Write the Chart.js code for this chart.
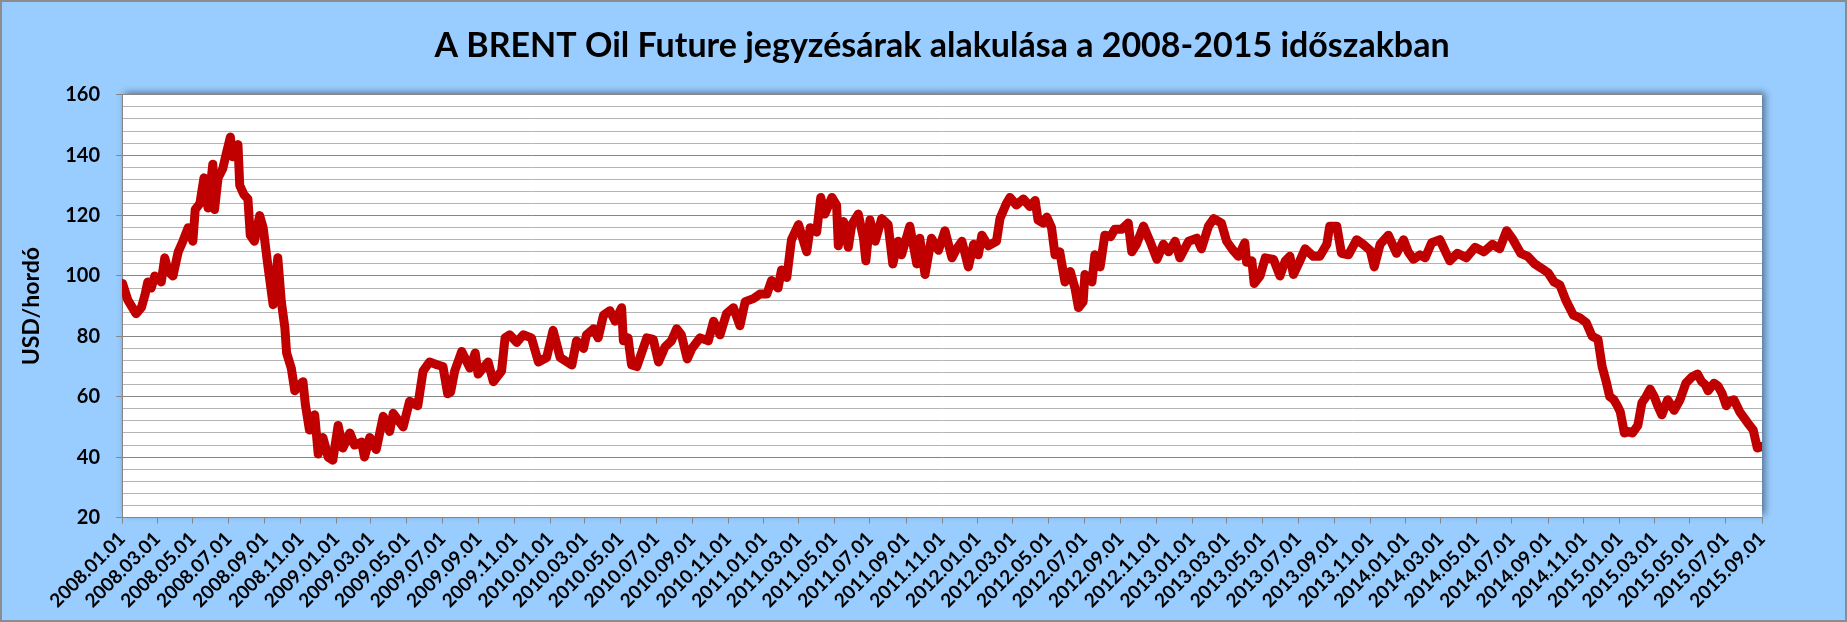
<!DOCTYPE html>
<html>
<head>
<meta charset="utf-8">
<script src="https://cdn.jsdelivr.net/npm/chart.js@4.4.1/dist/chart.umd.min.js"></script>
<style>
html,body{margin:0;padding:0;background:#99CCFF;overflow:hidden;}
canvas{display:block;}
</style>
</head>
<body>
<canvas id="c" width="1847" height="622"></canvas>
<script>
const titleText = 'A BRENT Oil Future jegyzésárak alakulása a 2008-2015 időszakban';
const yAxisTitle = 'USD/hordó';

const xTickLabels = [
 '2008.01.01','2008.03.01','2008.05.01','2008.07.01','2008.09.01','2008.11.01',
 '2009.01.01','2009.03.01','2009.05.01','2009.07.01','2009.09.01','2009.11.01',
 '2010.01.01','2010.03.01','2010.05.01','2010.07.01','2010.09.01','2010.11.01',
 '2011.01.01','2011.03.01','2011.05.01','2011.07.01','2011.09.01','2011.11.01',
 '2012.01.01','2012.03.01','2012.05.01','2012.07.01','2012.09.01','2012.11.01',
 '2013.01.01','2013.03.01','2013.05.01','2013.07.01','2013.09.01','2013.11.01',
 '2014.01.01','2014.03.01','2014.05.01','2014.07.01','2014.09.01','2014.11.01',
 '2015.01.01','2015.03.01','2015.05.01','2015.07.01','2015.09.01'
];

const yMin = 20, yMax = 160, yMajorStep = 20, yMinorStep = 4;

const dates = [
 '2008.01.02','2008.01.11','2008.01.25','2008.02.03','2008.02.09','2008.02.14','2008.02.20','2008.02.26','2008.03.08','2008.03.14',
 '2008.03.20','2008.03.28','2008.04.06','2008.04.14','2008.04.23','2008.05.01','2008.05.05','2008.05.13','2008.05.20','2008.05.27',
 '2008.06.04','2008.06.07','2008.06.13','2008.06.21','2008.06.27','2008.07.04','2008.07.08','2008.07.17','2008.07.20','2008.07.27',
 '2008.08.03','2008.08.07','2008.08.14','2008.08.23','2008.08.29','2008.09.06','2008.09.15','2008.09.23','2008.09.29','2008.10.05',
 '2008.10.08','2008.10.16','2008.10.22','2008.11.05','2008.11.09','2008.11.16','2008.11.25','2008.12.01','2008.12.09','2008.12.18',
 '2008.12.26',
 '2009.01.04','2009.01.12','2009.01.24','2009.02.01','2009.02.13','2009.02.18','2009.02.27','2009.03.10','2009.03.22','2009.04.02',
 '2009.04.08','2009.04.25','2009.05.06','2009.05.20','2009.05.29','2009.06.09','2009.06.23','2009.07.02','2009.07.10','2009.07.15',
 '2009.07.22','2009.08.03','2009.08.17','2009.08.26','2009.08.31','2009.09.17','2009.09.26','2009.10.10','2009.10.16','2009.10.24',
 '2009.11.05','2009.11.16','2009.11.30','2009.12.12','2009.12.26',
 '2010.01.06','2010.01.18','2010.02.07','2010.02.15','2010.02.27','2010.03.04','2010.03.16','2010.03.24','2010.04.02','2010.04.13',
 '2010.04.22','2010.05.03','2010.05.06','2010.05.14','2010.05.20','2010.05.29','2010.06.15','2010.06.26','2010.07.05','2010.07.16',
 '2010.07.27','2010.08.05','2010.08.13','2010.08.23','2010.08.31','2010.09.14','2010.09.28','2010.10.07','2010.10.18','2010.10.29',
 '2010.11.10','2010.11.21','2010.11.30','2010.12.14','2010.12.25',
 '2011.01.06','2011.01.14','2011.01.25','2011.01.31','2011.02.09','2011.02.17','2011.03.01','2011.03.15','2011.03.21','2011.04.01',
 '2011.04.08','2011.04.15','2011.04.27','2011.05.05','2011.05.08','2011.05.17','2011.05.25','2011.05.31','2011.06.11','2011.06.20',
 '2011.06.24','2011.07.01','2011.07.10','2011.07.21','2011.08.01','2011.08.09','2011.08.18','2011.08.24','2011.09.07','2011.09.19',
 '2011.09.24','2011.10.03','2011.10.14','2011.10.26','2011.11.06','2011.11.18','2011.11.26','2011.12.05','2011.12.16','2011.12.25',
 '2012.01.02','2012.01.08','2012.01.19','2012.02.02','2012.02.08','2012.02.19','2012.02.25','2012.03.07','2012.03.19','2012.03.30',
 '2012.04.08','2012.04.13','2012.04.22','2012.04.28','2012.05.06','2012.05.12','2012.05.20','2012.05.29','2012.06.07','2012.06.15',
 '2012.06.21','2012.06.29','2012.07.02','2012.07.14','2012.07.19','2012.07.28','2012.08.05','2012.08.15','2012.08.22','2012.09.03',
 '2012.09.14','2012.09.20','2012.09.28','2012.10.10','2012.10.21','2012.11.02','2012.11.13','2012.11.22','2012.12.03','2012.12.11',
 '2012.12.26',
 '2013.01.09','2013.01.17','2013.01.29','2013.02.07','2013.02.20','2013.03.01','2013.03.12','2013.03.21','2013.04.01','2013.04.04',
 '2013.04.13','2013.04.17','2013.04.27','2013.05.06','2013.05.20','2013.05.31','2013.06.09','2013.06.17','2013.06.23','2013.07.04',
 '2013.07.13','2013.07.27','2013.08.07','2013.08.19','2013.08.24','2013.09.05','2013.09.13','2013.09.25','2013.10.09','2013.10.20',
 '2013.11.01','2013.11.08','2013.11.18','2013.12.02','2013.12.16','2013.12.28',
 '2014.01.05','2014.01.14','2014.01.25','2014.02.03','2014.02.14','2014.02.28','2014.03.17','2014.03.30','2014.04.14','2014.04.29',
 '2014.05.14','2014.05.29','2014.06.10','2014.06.22','2014.07.03','2014.07.16','2014.07.28','2014.08.09','2014.08.21','2014.09.01',
 '2014.09.11','2014.09.21','2014.10.01','2014.10.14','2014.10.26','2014.11.05','2014.11.15','2014.11.25','2014.12.02','2014.12.09',
 '2014.12.15','2014.12.22','2014.12.28',
 '2015.01.02','2015.01.09','2015.01.16','2015.01.23','2015.02.01','2015.02.08','2015.02.15','2015.02.22','2015.03.01','2015.03.07',
 '2015.03.14','2015.03.24','2015.04.04','2015.04.14','2015.04.24','2015.05.04','2015.05.14','2015.05.21','2015.05.27','2015.06.01',
 '2015.06.11','2015.06.18','2015.06.25','2015.07.02','2015.07.08','2015.07.15','2015.07.25','2015.08.07','2015.08.17','2015.08.24',
 '2015.08.31'
];

const prices = [
 97.5,92,87.5,89.5,93.5,98,96,100,98,106,
 101.5,100,108,111.5,116,111.5,122,124,132.5,122.5,
 137,122,132.5,135.5,140.5,146,139.5,143.5,130,127,
 125.5,113.5,111.5,120,116,103.5,90.5,106,91.5,83,
 74.5,69.5,62,65,57.5,49,54,41,46.5,40,
 39,
 50.5,43,48,44,45,40,46.5,42.5,53.5,48.5,
 54.5,50,58.5,57,68.5,71.5,70.5,70,61,61.5,
 68.5,75,69.5,74.5,67.5,71.5,65,68.5,79.5,80.5,
 78,80.5,79.5,71.5,73,
 82,73,70.5,78.5,76,80.5,82.5,79.5,87,88.5,
 85,89.5,78.5,79.5,70.5,70,79.5,79,71.5,76.5,
 78.5,82.5,80.5,72.5,76,79.5,78.5,85,80.5,87.5,
 89.5,83.5,91.5,92.5,94,
 94,98.5,96,102,99.5,112,117,108,116,114.5,
 126,120.5,126,123.5,110,118,109.5,117,120.5,112.5,
 105,118.5,111.5,119,117,104,111.5,107,116.5,104,
 112.5,100.5,112.5,108.5,115,106,109,111.5,103,110.5,
 107,113.5,110,111.5,119,124,126,123.5,125.5,123,
 125,118.5,117.5,119.5,116,107,108,98,101.5,96,
 89.5,91.5,100.5,98,107,103,113.5,113,115.5,115.5,
 117.5,108,110.5,116.5,111.5,105.5,110.5,108,111.5,106,
 111.5,
 112.5,109,116.5,119,117.5,111.5,108.5,106.5,111,104.5,
 105,97.5,100,106,105.5,100,105,106.5,100.5,105,
 109,106.5,106.5,110.5,116.5,116.5,107.5,107,112,110.5,
 108.5,103,110.5,113.5,107.5,112,
 108,105.5,107,106,111,112,105,107.5,106,109.5,
 108,110.5,109,115,112,107.5,106.5,104,102.5,101,
 98,97,92,87,86,84.5,80,79,70,65,
 60,59,57,
 55,48,48.5,48,50.5,58,60,62.5,60,57,
 54,59,55.5,59,64.5,66.5,67.5,65,64,62,
 64.5,63.5,61,57,58.5,59,55,51.5,49,43,
 43.5
];

function dayIndex(s){
  const p = s.split('.').map(Number);
  return (Date.UTC(p[0], p[1]-1, p[2]) - Date.UTC(2008,0,1)) / 86400000;
}

const points = dates.map((s,i) => ({x: dayIndex(s), y: prices[i]}));
const xTickValues = xTickLabels.map(dayIndex);

const FONT = 'Lato, "Open Sans", "DejaVu Sans", sans-serif';

const bgPlugin = {
  id: 'bgPlugin',
  beforeDraw(chart){
    const {ctx, width, height, chartArea: a} = chart;
    ctx.save();
    ctx.fillStyle = '#99CCFF';
    ctx.fillRect(0,0,width,height);
    ctx.strokeStyle = '#8C8C8C';
    ctx.lineWidth = 2;
    ctx.strokeRect(1,1,width-2,height-2);
    ctx.shadowColor = 'rgba(0,0,0,0.45)';
    ctx.shadowBlur = 7;
    ctx.shadowOffsetX = 3;
    ctx.shadowOffsetY = -3;
    ctx.fillStyle = '#FFFFFF';
    ctx.fillRect(a.left, a.top, a.right - a.left, a.bottom - a.top);
    ctx.restore();
  }
};

new Chart(document.getElementById('c'), {
  type: 'line',
  data: {
    datasets: [{
      label: 'BRENT',
      data: points,
      borderColor: '#C00000',
      backgroundColor: '#C00000',
      borderWidth: 9,
      pointRadius: 0,
      tension: 0,
      borderCapStyle: 'round',
      borderJoinStyle: 'round',
      fill: false
    }]
  },
  options: {
    responsive: false,
    animation: false,
    layout: {padding: {left: 0, right: 85, top: 0, bottom: 0}},
    plugins: {
      legend: {display: false},
      tooltip: {enabled: false},
      title: {
        display: true,
        text: titleText,
        color: '#000',
        fullSize: false,
        font: {family: FONT, weight: 'bold', size: 34, lineHeight: 1.2},
        padding: {top: 26, bottom: 28}
      }
    },
    scales: {
      x: {
        type: 'linear',
        min: 0,
        max: xTickValues[xTickValues.length-1],
        afterBuildTicks: (axis) => { axis.ticks = xTickValues.map(v => ({value: v})); },
        afterFit: (axis) => { axis.height = 104.5; },
        ticks: {
          autoSkip: false,
          minRotation: 45,
          maxRotation: 45,
          padding: 4,
          color: '#000',
          font: {family: FONT, weight: 'bold', size: 19},
          callback: (v, i) => xTickLabels[i]
        },
        grid: {drawOnChartArea: false, drawTicks: true, tickLength: 6, color: '#868686'},
        border: {color: '#868686', width: 1}
      },
      y: {
        min: yMin,
        max: yMax,
        afterFit: (axis) => { axis.width = 122; },
        ticks: {
          stepSize: yMinorStep,
          autoSkip: false,
          padding: 16,
          color: '#000',
          font: {family: FONT, weight: 'bold', size: 20},
          callback: (v) => (v % yMajorStep === 0 ? String(v) : '')
        },
        grid: {
          drawOnChartArea: true,
          tickLength: 6,
          color: (c) => (c.tick && c.tick.value % yMajorStep === 0 ? '#868686' : '#B4B4B4'),
          tickColor: (c) => (c.tick && c.tick.value % yMajorStep === 0 ? '#868686' : 'rgba(0,0,0,0)')
        },
        border: {color: '#868686', width: 1},
        title: {
          display: true,
          text: yAxisTitle,
          color: '#000',
          font: {family: FONT, weight: 'bold', size: 23, lineHeight: 1.2},
          padding: {top: 18, bottom: 0}
        }
      }
    }
  },
  plugins: [bgPlugin]
});
</script>
</body>
</html>
